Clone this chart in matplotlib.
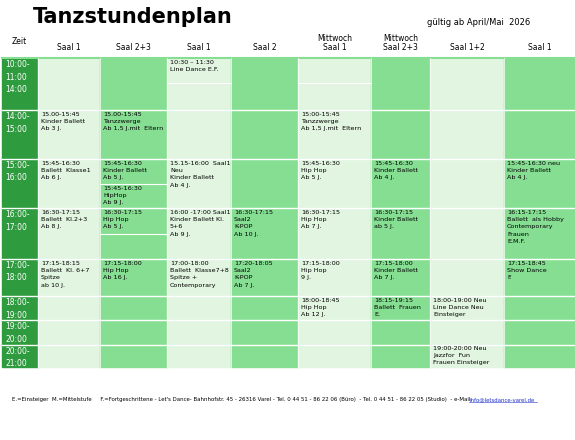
import matplotlib.pyplot as plt
from matplotlib.patches import Rectangle

# table layout in figure pixels
col_edges = [2, 38, 100, 167, 231, 298, 371, 430, 504, 575]
row_edges = [58, 110, 159, 208, 259, 296, 320, 345, 367]

headers_top = ["", "", "", "", "Mittwoch", "Mittwoch", "", ""]
headers = ["Saal 1", "Saal 2+3", "Saal 1", "Saal 2", "Saal 1", "Saal 2+3", "Saal 1+2", "Saal 1"]
times = ["10:00-\n11:00\n14:00", "14:00-\n15:00", "15:00-\n16:00", "16:00-\n17:00",
         "17:00-\n18:00", "18:00-\n19:00", "19:00-\n20:00", "20:00-\n21:00"]

# (column, row, text, offset inside row in px)
cells = [
    (2, 0, "10:30 – 11:30\nLine Dance E.F.", 0),
    (0, 1, "15.00-15:45\nKinder Ballett\nAb 3 J.", 0),
    (1, 1, "15.00-15:45\nTanzzwerge\nAb 1,5 J.mit  Eltern", 0),
    (4, 1, "15:00-15:45\nTanzzwerge\nAb 1,5 J.mit  Eltern", 0),
    (0, 2, "15:45-16:30\nBallett  Klasse1\nAb 6 J.", 0),
    (1, 2, "15:45-16:30\nKinder Ballett\nAb 5 J.", 0),
    (1, 2, "15:45-16:30\nHipHop\nAb 9 J.", 25),
    (2, 2, "15.15-16:00  Saal1\nNeu\nKinder Ballett\nAb 4 J.", 0),
    (4, 2, "15:45-16:30\nHip Hop\nAb 5 J.", 0),
    (5, 2, "15:45-16:30\nKinder Ballett\nAb 4 J.", 0),
    (7, 2, "15:45-16:30 neu\nKinder Ballett\nAb 4 J.", 0),
    (0, 3, "16:30-17:15\nBallett  Kl.2+3\nAb 8 J.", 0),
    (1, 3, "16:30-17:15\nHip Hop\nAb 5 J.", 0),
    (2, 3, "16:00 -17:00 Saal1\nKinder Ballett Kl.\n5+6\nAb 9 J.", 0),
    (3, 3, "16:30-17:15\nSaal2\nK-POP\nAb 10 J.", 0),
    (4, 3, "16:30-17:15\nHip Hop\nAb 7 J.", 0),
    (5, 3, "16:30-17:15\nKinder Ballett\nab 5 J.", 0),
    (7, 3, "16:15-17:15\nBallett  als Hobby\nContemporary\nFrauen\nE.M.F.", 0),
    (0, 4, "17:15-18:15\nBallett  Kl. 6+7\nSpitze\nab 10 J.", 0),
    (1, 4, "17:15-18:00\nHip Hop\nAb 16 J.", 0),
    (2, 4, "17:00-18:00\nBallett  Klasse7+8\nSpitze +\nContemporary", 0),
    (3, 4, "17:20-18:05\nSaal2\nK-POP\nAb 7 J.", 0),
    (4, 4, "17:15-18:00\nHip Hop\n9 J.", 0),
    (5, 4, "17:15-18:00\nKinder Ballett\nAb 7 J.", 0),
    (7, 4, "17:15-18:45\nShow Dance\nF.", 0),
    (4, 5, "18:00-18:45\nHip Hop\nAb 12 J.", 0),
    (5, 5, "18:15-19:15\nBallett  Frauen\nE.", 0),
    (6, 5, "18:00-19:00 Neu\nLine Dance Neu\nEinsteiger", 0),
    (6, 6, "19:00-20:00 Neu\nJazzfor  Fun\nFrauen Einsteiger", -1),
]

# extra thin white separators inside columns: (column, y px)
sub_lines = [(2, 83), (4, 83), (1, 184), (1, 234)]

light = "#e1f5e1"
mid = "#86de92"
dark = "#2e9b3e"

fig = plt.figure(figsize=(5.75, 4.4), dpi=100)
ax = fig.add_axes([0, 0, 1, 1])
ax.set_xlim(0, 575)
ax.set_ylim(440, 0)
ax.axis("off")

top, bot = row_edges[0], row_edges[-1]
ax.add_patch(Rectangle((col_edges[0], top), col_edges[1] - col_edges[0], bot - top, color=dark))
for c in range(8):
    x0, x1 = col_edges[c + 1], col_edges[c + 2]
    ax.add_patch(Rectangle((x0, top), x1 - x0, bot - top, color=light if c % 2 == 0 else mid))
    ax.text((x0 + x1) / 2, 52, headers[c], ha="center", va="bottom", fontsize=5.5)
    if headers_top[c]:
        ax.text((x0 + x1) / 2, 43, headers_top[c], ha="center", va="bottom", fontsize=5.5)
# mid green band above table
ax.plot([col_edges[0], 575], [top, top], color=mid, lw=1.5)

for y in row_edges[1:-1]:
    ax.plot([col_edges[0], 575], [y, y], color="white", lw=1)
for c, y in sub_lines:
    ax.plot([col_edges[c + 1], col_edges[c + 2]], [y, y], color="white", lw=0.8)
for x in col_edges[1:-1]:
    ax.plot([x, x], [top, bot], color="white", lw=0.5)

for r, t in enumerate(times):
    ax.text(col_edges[0] + 3, row_edges[r] + 2, t, ha="left", va="top",
            fontsize=5.5, color="white", linespacing=1.5)

for c, r, txt, off in cells:
    y = row_edges[r] + 2 + off if off >= 0 else row_edges[r + 1] + 1
    ax.text(col_edges[c + 1] + 3, y, txt, ha="left", va="top", fontsize=4.6, linespacing=1.55)

ax.text(33, 27, "Tanzstundenplan", fontsize=15, fontweight="black", family="DejaVu Sans", va="bottom")
ax.text(427, 27, "gültig ab April/Mai  2026", fontsize=6, va="bottom")
ax.text(12, 46, "Zeit", fontsize=5.5, va="bottom")

footer = ("E.=Einsteiger  M.=Mittelstufe     F.=Fortgeschrittene - Let's Dance- Bahnhofstr. 45 - 26316 Varel - "
          "Tel. 0 44 51 - 86 22 06 (Büro)  - Tel. 0 44 51 - 86 22 05 (Studio)  - e-Mail: ")
t = ax.text(12, 400, footer, fontsize=3.9, va="center")
ax.text(469, 400, "info@letsdance-varel.de", fontsize=3.9, va="center", color="#2233cc")
ax.plot([469, 537], [402.5, 402.5], color="#2233cc", lw=0.4)

fig.savefig("out.png", dpi=100)
